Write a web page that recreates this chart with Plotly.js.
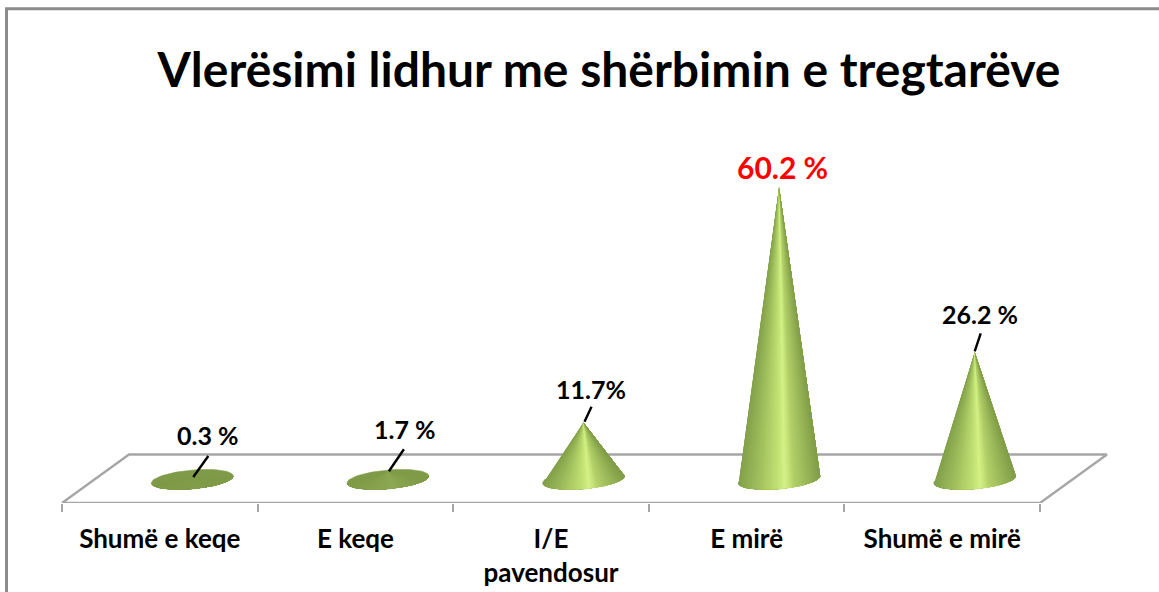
<!DOCTYPE html>
<html>
<head>
<meta charset="utf-8">
<script src="https://cdn.plot.ly/plotly-3.0.1.min.js"></script>
<style>html,body{margin:0;padding:0;background:#fff;overflow:hidden}#chart{width:1159px;height:592px}</style>
</head>
<body>
<div id="chart"></div>
<script>
// ---- data ----
const categories = ['Shumë e keqe', 'E keqe', 'I/E<br>pavendosur', 'E mirë', 'Shumë e mirë'];
const values = [0.3, 1.7, 11.7, 60.2, 26.2];
const valueLabels = ['0.3 %', '1.7 %', '11.7%', '60.2 %', '26.2 %'];
const chartTitle = 'Vlerësimi lidhur me shërbimin e tregtarëve';

// ---- presentation ----
const W = 1159, H = 592;
const pxPerCat = 195.6, axisLeft = 62, axisBottom = 503, basePx = 479.5, pxPerVal = 4.85;
const depthPx = 67, depthRise = 48.5;
const coneShift = 32.5 / pxPerCat;
const coneRx = 41, tiltPx = 3.5, coneRy = 9.5;
const labelDx = [16, 17, 7, 3, 5];
const labelDy = [43, 42, 34, 21, 38];
const leaderFrom = [[16, 22], [16, 22], [8, 16], null, [6, 19]];
const leaderTo = [[1, 1], [1, 0], [1, 1], null, [0, 1]];
const labelSize = [25, 25, 25, 30, 25];
const labelColor = ['#000', '#000', '#000', '#ff0000', '#000'];

const dx = px => px / pxPerCat;
const dy = px => px / pxPerVal;
const xRange = [(0 - axisLeft) / pxPerCat - 0.5, (W - axisLeft) / pxPerCat - 0.5];
const yRange = [(basePx - axisBottom) / pxPerVal, basePx / pxPerVal];

const stops = [[0, [131,160,74]], [0.22, [156,187,90]], [0.5, [196,228,118]], [0.57, [212,242,134]], [0.68, [178,208,104]], [1, [129,157,72]]];
function shade(f, strength) {
  let a = stops[0], b = stops[stops.length - 1];
  for (let i = 0; i < stops.length - 1; i++) {
    if (f >= stops[i][0] && f <= stops[i + 1][0]) { a = stops[i]; b = stops[i + 1]; break; }
  }
  const t = (f - a[0]) / ((b[0] - a[0]) || 1);
  const base = [127, 154, 72];
  const c = a[1].map((v, k) => {
    const m = v + (b[1][k] - v) * t;
    return Math.round(base[k] + (m - base[k]) * strength);
  });
  return 'rgb(' + c.join(',') + ')';
}

const traces = [];
const line = (xs, ys, color, width) => ({
  x: xs, y: ys, type: 'scatter', mode: 'lines',
  line: {color, width}, hoverinfo: 'skip', showlegend: false
});

// floor
const yFront = yRange[0], yBack = yRange[0] + dy(depthRise);
traces.push(line([-0.5, 4.5, 4.5 + dx(depthPx), -0.5 + dx(depthPx), -0.5],
                 [yFront, yFront, yBack, yBack, yFront], '#a6a6a6', 2.4));

// cones: painted left to right, each layer covers the rest of the base arc, so no seams
values.forEach((v, i) => {
  const cx = i + coneShift;
  const p = t => [cx + dx(coneRx * Math.cos(t)), dy(tiltPx * Math.cos(t) + coneRy * Math.sin(t))];
  const ex = [], ey = [];
  for (let k = 0; k <= 72; k++) {
    const q = p(k / 72 * 2 * Math.PI);
    ex.push(q[0]); ey.push(q[1]);
  }
  traces.push(Object.assign(line(ex, ey, '#7f9a48', 0.5), {fill: 'toself', fillcolor: '#7f9a48'}));
  const n = 60, strength = Math.min(1, v / 10);
  for (let k = 0; k < n; k++) {
    const tm = Math.PI + (k + 0.5) / n * Math.PI;
    const f = (Math.cos(tm) + 1) / 2;
    const col = shade(f, strength);
    const xs = [cx], ys = [v];
    for (let j = k; j <= n; j++) {
      const q = p(Math.PI + j / n * Math.PI);
      xs.push(q[0]); ys.push(q[1]);
    }
    xs.push(cx); ys.push(v);
    traces.push(Object.assign(line(xs, ys, col, 0), {fill: 'toself', fillcolor: col}));
  }
});

// frame
const shapes = [
  {type: 'line', xref: 'paper', yref: 'paper', x0: 6.5 / W, x1: 6.5 / W, y0: (axisBottom - H) / (axisBottom) , y1: (axisBottom - 7) / axisBottom, line: {color: '#8c8c8c', width: 3}},
  {type: 'line', xref: 'paper', yref: 'paper', x0: 5 / W, x1: 1, y0: (axisBottom - 7.5) / axisBottom, y1: (axisBottom - 7.5) / axisBottom, line: {color: '#8c8c8c', width: 3}}
];
// leader lines
values.forEach((v, i) => {
  if (!leaderFrom[i]) return;
  shapes.push({
    type: 'line', xref: 'x', yref: 'y',
    xsizemode: 'pixel', ysizemode: 'pixel',
    xanchor: i + coneShift, yanchor: v,
    x0: leaderFrom[i][0], y0: leaderFrom[i][1],
    x1: leaderTo[i][0], y1: leaderTo[i][1],
    line: {color: '#000', width: 2.4}
  });
});

const annotations = values.map((v, i) => ({
  x: i + coneShift, y: v, xref: 'x', yref: 'y',
  text: valueLabels[i], showarrow: false,
  xshift: labelDx[i], yshift: labelDy[i],
  font: {family: 'Lato, sans-serif', size: labelSize[i], color: labelColor[i], weight: 700}
}));

const layout = {
  width: W, height: H,
  margin: {l: 0, r: 0, t: 0, b: 0, pad: 0},
  paper_bgcolor: '#fff', plot_bgcolor: 'rgba(0,0,0,0)',
  showlegend: false,
  title: {
    text: chartTitle, xref: 'paper', x: 609 / W, xanchor: 'center',
    yref: 'container', y: 1 - 70 / H, yanchor: 'middle',
    font: {family: 'Lato, sans-serif', size: 48, color: '#000', weight: 700}
  },
  xaxis: {
    range: xRange, domain: [0, 1], fixedrange: true,
    showgrid: false, zeroline: false, showline: false,
    tickmode: 'array', tickvals: categories.map((_, i) => i), ticktext: categories,
    ticks: '', tickangle: 0, ticklabelstandoff: 18,
    tickfont: {family: 'Lato, sans-serif', size: 26, color: '#000', weight: 700},
    minor: {tickmode: 'array', tickvals: [-0.5, 0.5, 1.5, 2.5, 3.5, 4.5], ticks: 'outside', ticklen: 8, tickwidth: 2, tickcolor: '#a6a6a6', showgrid: false}
  },
  yaxis: {
    range: yRange, domain: [(H - axisBottom) / H, 1], fixedrange: true,
    visible: false
  },
  shapes, annotations
};
Plotly.newPlot('chart', traces, layout, {displayModeBar: false, staticPlot: true});
</script>
</body>
</html>
